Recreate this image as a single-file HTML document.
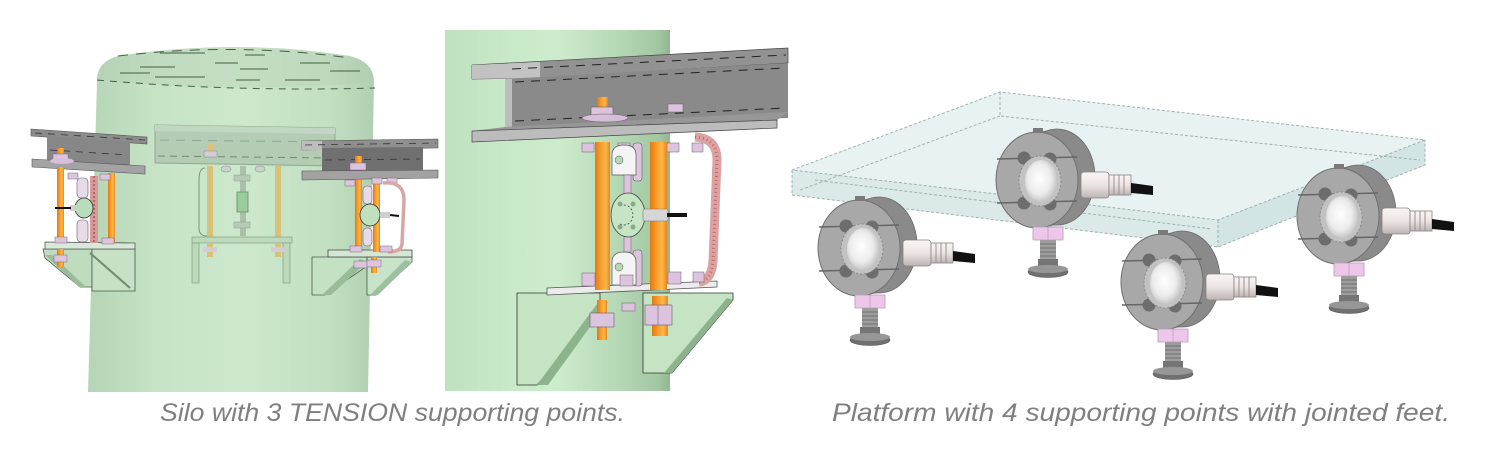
<!DOCTYPE html>
<html>
<head>
<meta charset="utf-8">
<style>
  html,body{margin:0;padding:0;background:#fff;}
  body{width:1498px;height:464px;overflow:hidden;}
  svg{display:block;}
  text{font-family:"Liberation Sans",sans-serif;font-style:italic;}
</style>
</head>
<body>
<svg width="1498" height="464" viewBox="0 0 1498 464" xmlns="http://www.w3.org/2000/svg">
<defs>
  <linearGradient id="silo" x1="0" x2="1" y1="0" y2="0">
    <stop offset="0" stop-color="#b5d5b5"/>
    <stop offset="0.25" stop-color="#c7e4c7"/>
    <stop offset="0.55" stop-color="#cde8cd"/>
    <stop offset="0.85" stop-color="#c2dfc2"/>
    <stop offset="1" stop-color="#b0d0b0"/>
  </linearGradient>
  <linearGradient id="col" x1="0" x2="1" y1="0" y2="0">
    <stop offset="0" stop-color="#c0e1c0"/>
    <stop offset="0.3" stop-color="#c8eac8"/>
    <stop offset="0.5" stop-color="#cdeccd"/>
    <stop offset="0.78" stop-color="#b4d7b4"/>
    <stop offset="0.95" stop-color="#a2c6a2"/>
    <stop offset="1" stop-color="#92b692"/>
  </linearGradient>
  <linearGradient id="rod" x1="0" x2="1" y1="0" y2="0">
    <stop offset="0" stop-color="#e07a10"/>
    <stop offset="0.45" stop-color="#ffa22e"/>
    <stop offset="0.7" stop-color="#ffb84d"/>
    <stop offset="1" stop-color="#e3861c"/>
  </linearGradient>
  <linearGradient id="conn" x1="0" x2="0" y1="0" y2="1">
    <stop offset="0" stop-color="#faf6f6"/>
    <stop offset="0.5" stop-color="#ece4e4"/>
    <stop offset="1" stop-color="#bdb4b4"/>
  </linearGradient>
  <radialGradient id="dome" cx="0.45" cy="0.45" r="0.6">
    <stop offset="0" stop-color="#ffffff"/>
    <stop offset="0.6" stop-color="#ececec"/>
    <stop offset="1" stop-color="#bdbdbd"/>
  </radialGradient>
  <g id="cell">
    <polygon points="0,-48 20,-51 20,45 0,48" fill="#8c8c8c"/>
    <ellipse cx="20" cy="-3" rx="38" ry="48" fill="#8a8a8a" stroke="#6a6a6a" stroke-width="0.8"/>
    <ellipse cx="0" cy="0" rx="41" ry="48" fill="#a8a8a8" stroke="#707070" stroke-width="1"/>
    <rect x="-4" y="-52" width="10" height="5" fill="#7a7a7a"/>
    <path d="M-40,-21 L40,-23 M-40,23 L40,21" stroke="#666" stroke-width="1.5" fill="none"/>
    <circle cx="-13" cy="-22" r="6.5" fill="#6d6d6d"/>
    <circle cx="13" cy="-21" r="6.5" fill="#6d6d6d"/>
    <circle cx="-13" cy="23" r="6.5" fill="#6d6d6d"/>
    <circle cx="13" cy="24" r="6.5" fill="#6d6d6d"/>
    <ellipse cx="3" cy="1" rx="21" ry="25" fill="#c2c2c2" stroke="#888" stroke-width="1" stroke-dasharray="2,2"/>
    <ellipse cx="4" cy="1" rx="16" ry="21" fill="url(#dome)"/>
    <rect x="44" y="-8" width="28" height="26" rx="3" fill="url(#conn)" stroke="#8a8080" stroke-width="0.8"/>
    <rect x="72" y="-5" width="22" height="20" fill="url(#conn)" stroke="#8a8080" stroke-width="0.8"/>
    <path d="M77,-5 L77,15 M82,-5 L82,15 M87,-5 L87,15" stroke="#9a9090" stroke-width="1"/>
    <polygon points="94,3 116,6 116,15 94,13" fill="#111"/>
    <polygon points="-4,47 26,47 26,60 -4,60" fill="#eec6ea" stroke="#b89ab6" stroke-width="0.8"/>
    <line x1="11" y1="47" x2="11" y2="60" stroke="#c8a6c6" stroke-width="1"/>
    <rect x="3" y="60" width="16" height="19" fill="#9d9d9d"/>
    <path d="M3,64 H19 M3,68 H19 M3,72 H19 M3,76 H19" stroke="#6f6f6f" stroke-width="1"/>
    <rect x="1" y="79" width="20" height="9" fill="#757575"/>
    <ellipse cx="11" cy="92" rx="20" ry="5.5" fill="#707070" stroke="#555" stroke-width="0.6"/>
    <ellipse cx="11" cy="89" rx="20" ry="4" fill="#979797"/>
  </g>
</defs>

<!-- ===== SILO ===== -->
<path d="M88,392 L97,82 Q96,62 118,56 Q235,38 350,56 Q374,62 374,82 L368,392 Z" fill="url(#silo)"/>
<path d="M97,82 Q96,62 118,56 Q235,38 350,56 Q374,62 374,82 Q235,94 97,80 Z" fill="#b4cbb4" opacity="0.35"/>
<g stroke="#2f4a2f" stroke-width="1" fill="none" opacity="0.85">
  <path d="M118,56 Q235,42 350,58" stroke-dasharray="10,8"/>
  <path d="M97,80 Q235,92 375,88" stroke-dasharray="7,6"/>
  <path d="M155,77 H205 M236,80 H260 M285,80 H320 M140,67 H175 M215,63 H238 M300,63 H330 M120,73 H150 M240,69 H268 M160,53 H205 M245,55 H265 M330,71 H360"/>
</g>

<!-- center bracket (behind, faded) -->
<polygon points="155,125 335,128 335,166 155,163" fill="#b4cbb4" stroke="#8fa88f" stroke-width="1"/>
<polygon points="155,125 335,128 335,134 155,131" fill="#c2d7c2"/>
<path d="M158,156 L332,158" stroke="#6f8a6f" stroke-width="1" stroke-dasharray="7,5"/>
<path d="M160,140 L330,142" stroke="#8ea58e" stroke-width="1" stroke-dasharray="9,7"/>
<rect x="207" y="144" width="7" height="9" fill="#dcc27a"/>
<rect x="204" y="151" width="13" height="6" fill="#d4cbd4" stroke="#8a8a8a" stroke-width="0.5"/>
<path d="M205,168 Q199,168 199,180 L199,228 Q199,236 207,236" fill="none" stroke="#7f907f" stroke-width="1"/>
<rect x="207" y="166" width="6" height="72" fill="#d8c27a"/>
<rect x="275" y="166" width="6" height="72" fill="#d8c27a"/>
<ellipse cx="226" cy="169" rx="5" ry="3" fill="#c8d4c8" stroke="#8a9a8a" stroke-width="0.6"/>
<ellipse cx="260" cy="169" rx="5" ry="3" fill="#c8d4c8" stroke="#8a9a8a" stroke-width="0.6"/>
<rect x="240" y="166" width="6" height="70" fill="#a9c1a9"/>
<rect x="237" y="192" width="11" height="20" fill="#9ccb9c" stroke="#6a8a6a" stroke-width="0.8"/>
<rect x="234" y="175" width="16" height="6" fill="#b7c9b7" stroke="#8a9a8a" stroke-width="0.5"/>
<rect x="234" y="222" width="16" height="6" fill="#b7c9b7" stroke="#8a9a8a" stroke-width="0.5"/>
<polygon points="192,237 292,237 292,243 192,243" fill="#bcd9bc" stroke="#86a686" stroke-width="0.8"/>
<rect x="192" y="243" width="7" height="40" fill="#bcd9bc" stroke="#86a686" stroke-width="0.8"/>
<rect x="283" y="243" width="7" height="40" fill="#bcd9bc" stroke="#86a686" stroke-width="0.8"/>
<rect x="207" y="243" width="6" height="14" fill="#d8c27a"/>
<rect x="275" y="243" width="6" height="14" fill="#d8c27a"/>
<rect x="203" y="247" width="14" height="5" fill="#d4cbd4"/>
<rect x="271" y="247" width="14" height="5" fill="#d4cbd4"/>

<!-- left bracket -->
<polygon points="43,249 92,249 92,287 80,287 45,258" fill="#bfdcbf" stroke="#4a5a4a" stroke-width="0.8"/>
<polygon points="45,255 52,255 86,287 79,287" fill="#9bbb9b"/>
<polygon points="92,249 135,249 135,291 92,291" fill="#c6e1c6" stroke="#4a5a4a" stroke-width="0.8"/>
<line x1="90" y1="253" x2="130" y2="288" stroke="#6d8d6d" stroke-width="2"/>
<polygon points="45,242 135,243 135,249 45,249" fill="#d9e9d9" stroke="#555" stroke-width="0.8"/>
<rect x="57" y="249" width="7" height="18" fill="url(#rod)"/>
<rect x="54" y="255" width="13" height="7" fill="#dcc4df" stroke="#7a6a7a" stroke-width="0.5"/>
<polygon points="31,129 147,137 147,144 31,136" fill="#8b8b8b" stroke="#555" stroke-width="0.6"/>
<polygon points="47,136 130,142 130,167 47,162" fill="#878787"/>
<polygon points="32,159 145,166 145,174 32,167" fill="#a3a3a3" stroke="#555" stroke-width="0.6"/>
<path d="M35,133 L145,140 M50,150 L128,155" stroke="#333" stroke-width="0.8" stroke-dasharray="7,6"/>
<rect x="57" y="148" width="7" height="10" fill="url(#rod)"/>
<rect x="53" y="154" width="15" height="7" fill="#dcc4df" stroke="#7a6a7a" stroke-width="0.5"/>
<ellipse cx="62" cy="161" rx="12" ry="3" fill="#d6bfd9"/>
<rect x="57" y="167" width="7" height="76" fill="url(#rod)"/>
<rect x="108" y="173" width="7" height="70" fill="url(#rod)"/>
<rect x="68" y="173" width="10" height="6" fill="#dcc4df" stroke="#7a6a7a" stroke-width="0.5"/>
<rect x="100" y="174" width="10" height="6" fill="#dcc4df" stroke="#7a6a7a" stroke-width="0.5"/>
<rect x="90" y="176" width="8" height="67" fill="#d69a9a"/>
<line x1="94" y1="176" x2="94" y2="243" stroke="#b86464" stroke-width="2" stroke-dasharray="2,2"/>
<rect x="77" y="178" width="11" height="20" rx="4" fill="#e6dbe7" stroke="#6a5a6a" stroke-width="0.6"/>
<rect x="77" y="220" width="11" height="22" rx="4" fill="#e6dbe7" stroke="#6a5a6a" stroke-width="0.6"/>
<ellipse cx="84" cy="208" rx="9" ry="10" fill="#b9dcb9" stroke="#333" stroke-width="0.8"/>
<rect x="70" y="205" width="6" height="6" fill="#cfcfcf"/>
<line x1="55" y1="208" x2="71" y2="208" stroke="#111" stroke-width="2"/>
<rect x="55" y="237" width="12" height="6" fill="#dcc4df" stroke="#7a6a7a" stroke-width="0.5"/>
<rect x="102" y="238" width="12" height="6" fill="#dcc4df" stroke="#7a6a7a" stroke-width="0.5"/>

<!-- right bracket -->
<polygon points="312,257 367,257 367,266 325,295 312,295" fill="#c3e1c3" stroke="#4a5a4a" stroke-width="0.8"/>
<polygon points="360,259 367,262 331,295 322,295" fill="#98bb98"/>
<polygon points="367,257 412,257 412,262 376,295 367,295" fill="#c8e4c8" stroke="#4a5a4a" stroke-width="0.8"/>
<polygon points="405,260 412,262 378,295 370,295" fill="#9fc09f"/>
<polygon points="328,250 412,250 412,257 328,257" fill="#d4e7d4" stroke="#444" stroke-width="0.8"/>
<rect x="371" y="257" width="6" height="16" fill="url(#rod)"/>
<rect x="354" y="261" width="13" height="7" fill="#dcc4df" stroke="#7a6a7a" stroke-width="0.5"/>
<rect x="367" y="260" width="14" height="7" fill="#dcc4df" stroke="#7a6a7a" stroke-width="0.5"/>
<polygon points="302,141 438,139 438,148 302,150" fill="#8f8f8f" stroke="#555" stroke-width="0.6"/>
<rect x="302" y="141" width="20" height="9" fill="#bdbdbd"/>
<polygon points="322,148 423,147 423,172 322,173" fill="#707070"/>
<polygon points="302,171 438,170 438,178 302,180" fill="#a2a2a2" stroke="#555" stroke-width="0.6"/>
<path d="M305,145 L436,143 M325,160 L420,159" stroke="#333" stroke-width="0.8" stroke-dasharray="7,6"/>
<rect x="355" y="156" width="7" height="12" fill="url(#rod)"/>
<rect x="350" y="163" width="16" height="7" fill="#dcc4df" stroke="#7a6a7a" stroke-width="0.5"/>
<rect x="355" y="180" width="7" height="72" fill="url(#rod)"/>
<rect x="373" y="182" width="7" height="70" fill="url(#rod)"/>
<rect x="345" y="180" width="10" height="6" fill="#dcc4df" stroke="#7a6a7a" stroke-width="0.5"/>
<rect x="372" y="178" width="10" height="6" fill="#dcc4df" stroke="#7a6a7a" stroke-width="0.5"/>
<rect x="387" y="178" width="10" height="6" fill="#dcc4df" stroke="#7a6a7a" stroke-width="0.5"/>
<path d="M383,183 Q404,181 404,200 L402,244 Q401,252 388,252" fill="none" stroke="#d9a5a5" stroke-width="3.5"/>
<rect x="363" y="186" width="9" height="18" rx="4" fill="#e6dbe7" stroke="#6a5a6a" stroke-width="0.6"/>
<rect x="363" y="228" width="9" height="18" rx="4" fill="#e6dbe7" stroke="#6a5a6a" stroke-width="0.6"/>
<ellipse cx="370" cy="215" rx="10" ry="11" fill="#c0e0c0" stroke="#333" stroke-width="0.8"/>
<rect x="380" y="212" width="10" height="6" fill="#cfcfcf"/>
<line x1="390" y1="215" x2="399" y2="216" stroke="#111" stroke-width="2"/>
<rect x="350" y="246" width="12" height="6" fill="#dcc4df" stroke="#7a6a7a" stroke-width="0.5"/>
<rect x="380" y="246" width="12" height="6" fill="#dcc4df" stroke="#7a6a7a" stroke-width="0.5"/>

<!-- ===== DETAIL PANEL ===== -->
<rect x="445" y="30" width="225" height="361" fill="url(#col)"/>
<!-- gussets -->
<polygon points="517,293 600,293 600,313 537,385 517,385" fill="#c4e4c4" stroke="#333" stroke-width="0.8"/>
<polygon points="600,300 608,302 548,385 537,385" fill="#8db38d"/>
<polygon points="643,293 733,293 733,300 672,373 643,373" fill="#c4e4c4" stroke="#333" stroke-width="0.8"/>
<polygon points="733,300 727,298 664,373 672,373" fill="#8db38d"/>
<!-- plate -->
<polygon points="547,288 717,281 717,287 547,295" fill="#ececec" stroke="#555" stroke-width="0.8"/>
<!-- lower bolts -->
<rect x="597" y="300" width="10" height="40" fill="url(#rod)"/>
<rect x="590" y="313" width="24" height="14" fill="#dcc4df" stroke="#6a5a6a" stroke-width="0.6"/>
<rect x="652" y="296" width="16" height="40" fill="url(#rod)"/>
<rect x="645" y="305" width="27" height="20" fill="#dcc4df" stroke="#6a5a6a" stroke-width="0.6"/>
<line x1="658" y1="305" x2="658" y2="325" stroke="#8a7a8a" stroke-width="0.8"/>
<rect x="622" y="303" width="13" height="8" fill="#dcc4df" stroke="#6a5a6a" stroke-width="0.5"/>
<!-- beam -->
<polygon points="472,65 788,48 788,63 540,78 472,79" fill="#929292" stroke="#444" stroke-width="0.7"/>
<polygon points="472,65 540,62 540,78 472,79" fill="#c2c2c2"/>
<polygon points="505,79 788,63 788,118 505,128" fill="#8a8a8a"/>
<rect x="505" y="79" width="7" height="49" fill="#bdbdbd"/>
<polygon points="505,127 788,112 777,120 472,131" fill="#979797"/>
<polygon points="472,131 777,120 777,128 472,142" fill="#bcbcbc" stroke="#444" stroke-width="0.7"/>
<path d="M512,69 L786,55 M515,82 L785,68 M515,121 L785,108" stroke="#222" stroke-width="1" stroke-dasharray="9,7"/>
<rect x="597" y="97" width="11" height="18" fill="url(#rod)"/>
<rect x="591" y="107" width="22" height="11" fill="#dcc4df" stroke="#6a5a6a" stroke-width="0.6"/>
<ellipse cx="605" cy="118" rx="23" ry="4" fill="#d6bfd9" stroke="#6a5a6a" stroke-width="0.5"/>
<rect x="668" y="104" width="15" height="8" fill="#dcc4df" stroke="#6a5a6a" stroke-width="0.5"/>
<!-- nuts under beam -->
<rect x="582" y="143" width="12" height="9" fill="#dcc4df" stroke="#6a5a6a" stroke-width="0.5"/>
<rect x="618" y="143" width="12" height="9" fill="#dcc4df" stroke="#6a5a6a" stroke-width="0.5"/>
<rect x="667" y="143" width="12" height="9" fill="#dcc4df" stroke="#6a5a6a" stroke-width="0.5"/>
<rect x="692" y="143" width="11" height="9" fill="#dcc4df" stroke="#6a5a6a" stroke-width="0.5"/>
<!-- rods -->
<rect x="595" y="142" width="15" height="148" fill="url(#rod)"/>
<rect x="650" y="142" width="17" height="148" fill="url(#rod)"/>
<!-- clevises and load cell -->
<rect x="633" y="143" width="9" height="38" rx="3" fill="#dcc4df" stroke="#6a5a6a" stroke-width="0.6"/>
<path d="M612,175 L612,155 Q612,145 624,145 Q636,145 636,155 L636,175 Z" fill="#f4f4f4" stroke="#555" stroke-width="0.7"/>
<circle cx="619" cy="160" r="4" fill="#b5d8b5" stroke="#555" stroke-width="0.5"/>
<rect x="624" y="175" width="7" height="20" fill="#dcc4df" stroke="#6a5a6a" stroke-width="0.5"/>
<rect x="624" y="235" width="7" height="17" fill="#dcc4df" stroke="#6a5a6a" stroke-width="0.5"/>
<polygon points="628,193 645,193 645,237 628,237" fill="#a8cfa8"/>
<ellipse cx="628" cy="215" rx="17" ry="22" fill="#c5e5c5" stroke="#444" stroke-width="0.8"/>
<path d="M620,206 A9,10 0 1 1 620,224" fill="none" stroke="#444" stroke-width="0.8" stroke-dasharray="2,2"/>
<circle cx="620" cy="204" r="2.5" fill="#8aaa8a"/>
<circle cx="633" cy="204" r="2.5" fill="#8aaa8a"/>
<circle cx="620" cy="227" r="2.5" fill="#8aaa8a"/>
<circle cx="633" cy="227" r="2.5" fill="#8aaa8a"/>
<rect x="643" y="209" width="25" height="12" rx="2" fill="#d6d6d6" stroke="#777" stroke-width="0.6"/>
<rect x="667" y="213" width="20" height="4" fill="#111"/>
<rect x="633" y="250" width="9" height="36" rx="3" fill="#dcc4df" stroke="#6a5a6a" stroke-width="0.6"/>
<path d="M612,285 L612,262 Q612,252 624,252 Q636,252 636,262 L636,285 Z" fill="#f4f4f4" stroke="#555" stroke-width="0.7"/>
<circle cx="619" cy="267" r="4" fill="#b5d8b5" stroke="#555" stroke-width="0.5"/>
<!-- strap -->
<path d="M695,137 Q717,138 717,160 L713,262 Q711,281 699,282" fill="none" stroke="#dca2a2" stroke-width="9"/>
<path d="M695,137 Q717,138 717,160 L713,262 Q711,281 699,282" fill="none" stroke="#bf6a6a" stroke-width="3" stroke-dasharray="1,3"/>
<!-- nuts on plate -->
<rect x="582" y="273" width="13" height="13" fill="#dcc4df" stroke="#6a5a6a" stroke-width="0.5"/>
<rect x="620" y="275" width="13" height="11" fill="#dcc4df" stroke="#6a5a6a" stroke-width="0.5"/>
<rect x="668" y="272" width="13" height="12" fill="#dcc4df" stroke="#6a5a6a" stroke-width="0.5"/>
<rect x="693" y="272" width="11" height="10" fill="#dcc4df" stroke="#6a5a6a" stroke-width="0.5"/>

<!-- ===== PLATFORM ===== -->
<polygon points="792,170 1000,92 1425,140 1218,220" fill="#e8f2f2"/>
<polygon points="792,170 1218,220 1218,247 792,195" fill="#dbe9e9"/>
<polygon points="1218,220 1425,140 1425,165 1218,247" fill="#d3e4e4"/>
<g fill="none" stroke="#9db1b1" stroke-width="1" stroke-dasharray="3,2">
  <polygon points="792,170 1000,92 1425,140 1218,220"/>
  <path d="M792,170 L792,195 L1218,247 L1425,165 L1425,140 M1218,220 L1218,247"/>
  <path d="M1000,92 L1000,116 L1420,160 M1000,116 L800,190 M815,180 L1212,229"/>
</g>
<use href="#cell" x="1037" y="180"/>
<use href="#cell" x="1338" y="216"/>
<use href="#cell" x="859" y="248"/>
<use href="#cell" x="1162" y="282"/>

<!-- captions -->
<text x="160" y="421" font-size="25" fill="#7f7f7f" textLength="465" lengthAdjust="spacingAndGlyphs">Silo with 3 TENSION supporting points.</text>
<text x="832" y="421" font-size="25" fill="#7f7f7f" textLength="618" lengthAdjust="spacingAndGlyphs">Platform with 4 supporting points with jointed feet.</text>
</svg>
</body>
</html>
